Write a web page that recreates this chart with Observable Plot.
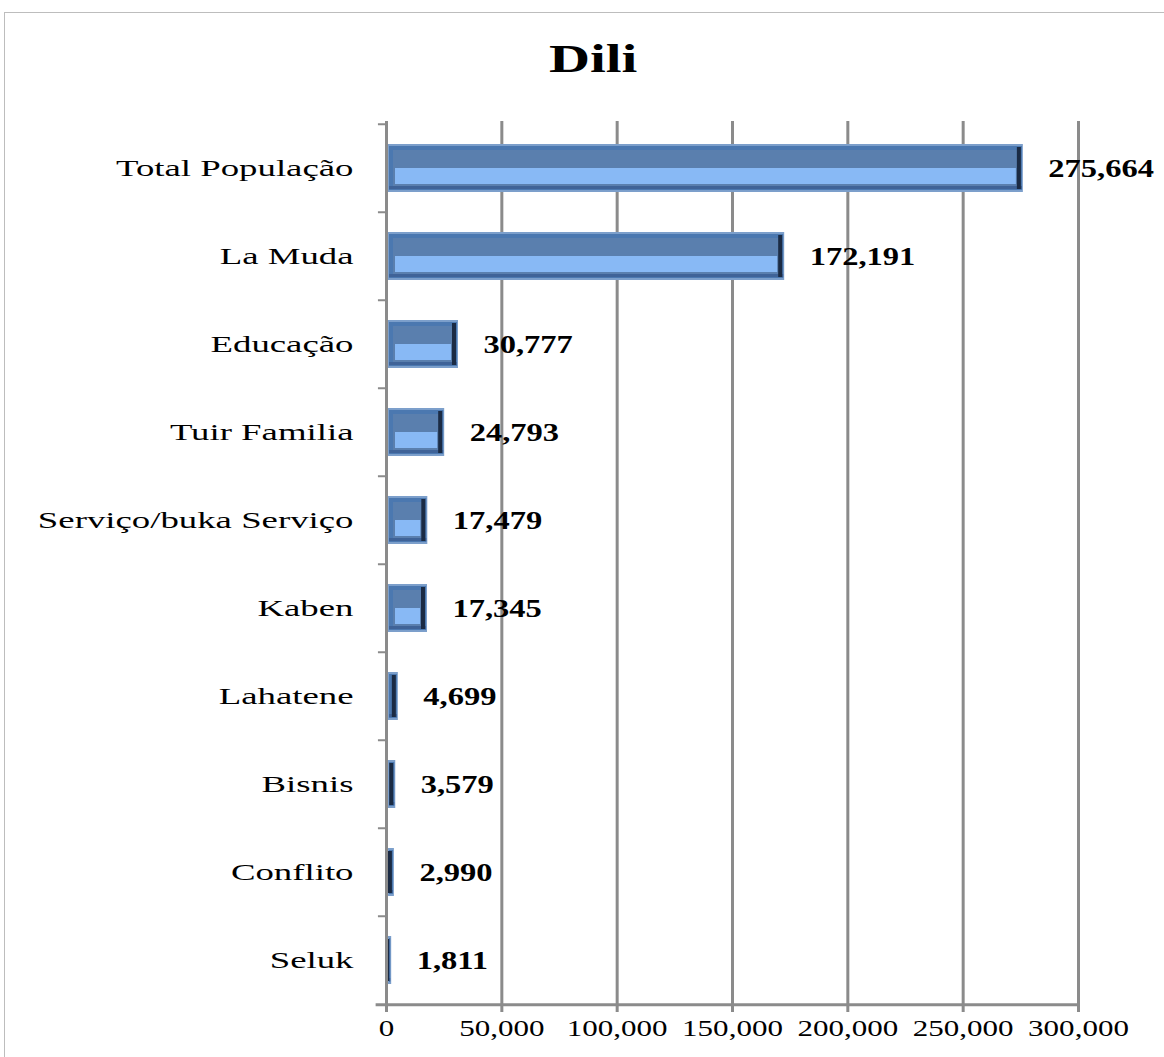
<!DOCTYPE html>
<html>
<head>
<meta charset="utf-8">
<script src="https://cdn.jsdelivr.net/npm/d3@7"></script>
<script src="https://cdn.jsdelivr.net/npm/@observablehq/plot@0.6"></script>
<style>
  html, body { margin: 0; padding: 0; background: #fff; overflow: hidden; }
  #wrap { position: relative; width: 1164px; height: 1057px; overflow: hidden; }
  #border { position: absolute; left: 4px; top: 12px; width: 1200px; height: 1100px; border: 1px solid #bdbdbd; box-sizing: border-box; }
  #title { position: absolute; top: 39px; left: 11px; width: 1164px; text-align: center;
           font: bold 40px "Liberation Serif", "Times New Roman", serif; line-height: 40px; }
  #title span { display: inline-block; transform: scaleX(1.42); }
  #chart { position: absolute; left: 0; top: 0; }
</style>
</head>
<body>
<div id="wrap">
  <div id="border"></div>
  <div id="chart"></div>
  <div id="title"><span>Dili</span></div>
</div>
<script>
const categories = [
  "Total População", "La Muda", "Educação", "Tuir Familia", "Serviço/buka Serviço",
  "Kaben", "Lahatene", "Bisnis", "Conflito", "Seluk"
];
const values = [275664, 172191, 30777, 24793, 17479, 17345, 4699, 3579, 2990, 1811];
const xTicks = [0, 50000, 100000, 150000, 200000, 250000, 300000];

const data = categories.map((c, i) => ({category: c, value: values[i]}));
const fmt = d3.format(",");
const grid = "#8b8b8b";

const svg = Plot.plot({
  width: 1164,
  height: 1057,
  marginLeft: 386,
  marginRight: 86,
  marginTop: 121,
  marginBottom: 51,
  style: {fontFamily: "'Liberation Serif', 'Times New Roman', serif", background: "transparent", color: "black"},
  x: {domain: [0, 300000], label: null},
  y: {domain: categories, label: null, paddingInner: 0.5, paddingOuter: 0.25},
  marks: [
    Plot.ruleX(xTicks.slice(1), {stroke: grid, strokeWidth: 3}),
    // bar body
    Plot.barX(data, {x: "value", y: "category", fill: "#7c9fcb", insetTop: -2, insetBottom: -2, insetLeft: 2, insetRight: -1}),
    Plot.barX(data, {x: "value", y: "category", fill: "#4b78b0", insetLeft: 3}),
    Plot.barX(data, {x: "value", y: "category", fill: "#5a7fae", insetTop: 4, insetBottom: 4, insetLeft: 7, insetRight: 4}),
    Plot.barX(data, {x: "value", y: "category", fill: "#88b9f5", insetTop: 22, insetBottom: 6, insetLeft: 9, insetRight: 6}),
    Plot.barX(data, {x: "value", y: "category", fill: "#3f6398", insetTop: 40, insetBottom: 1, insetLeft: 3}),
    // dark right edge of each bar
    Plot.barX(data, {x1: "value", x2: "value", y: "category", fill: "#1b2b44", insetLeft: -5, insetRight: 1, insetTop: 1, insetBottom: 1}),
    // axes lines
    Plot.ruleX([0], {stroke: grid, strokeWidth: 3}),
    Plot.ruleY(categories, {y: d => d, dy: -44.25, x1: -3500, x2: 0, stroke: grid, strokeWidth: 2}),
    Plot.ruleY([categories[categories.length - 1]], {y: d => d, dy: 44.25, x1: -4500, x2: 300000, stroke: grid, strokeWidth: 3}),
    Plot.axisX({ticks: xTicks, tickFormat: fmt, tickSize: 6, tickPadding: 7, fontSize: 23, stroke: grid, strokeWidth: 3, label: null, fill: "black"}),
    Plot.axisY({tickSize: 0, tickPadding: 33, fontSize: 23, label: null, fill: "black"}),
    Plot.text(data, {x: "value", y: "category", text: d => fmt(d.value), dx: 26, textAnchor: "start", fontWeight: "bold", fontSize: 25, fill: "black"})
  ]
});

const scales = {"y-axis tick label": 1.6, "x-axis tick label": 1.35, "text": 1.3};
for (const [label, s] of Object.entries(scales)) {
  d3.select(svg).selectAll(`g[aria-label="${label}"] text`).each(function() {
    const t = this.getAttribute("transform") || "";
    this.setAttribute("transform", t + ` scale(${s},1)`);
  });
}

document.getElementById("chart").appendChild(svg);
</script>
</body>
</html>
